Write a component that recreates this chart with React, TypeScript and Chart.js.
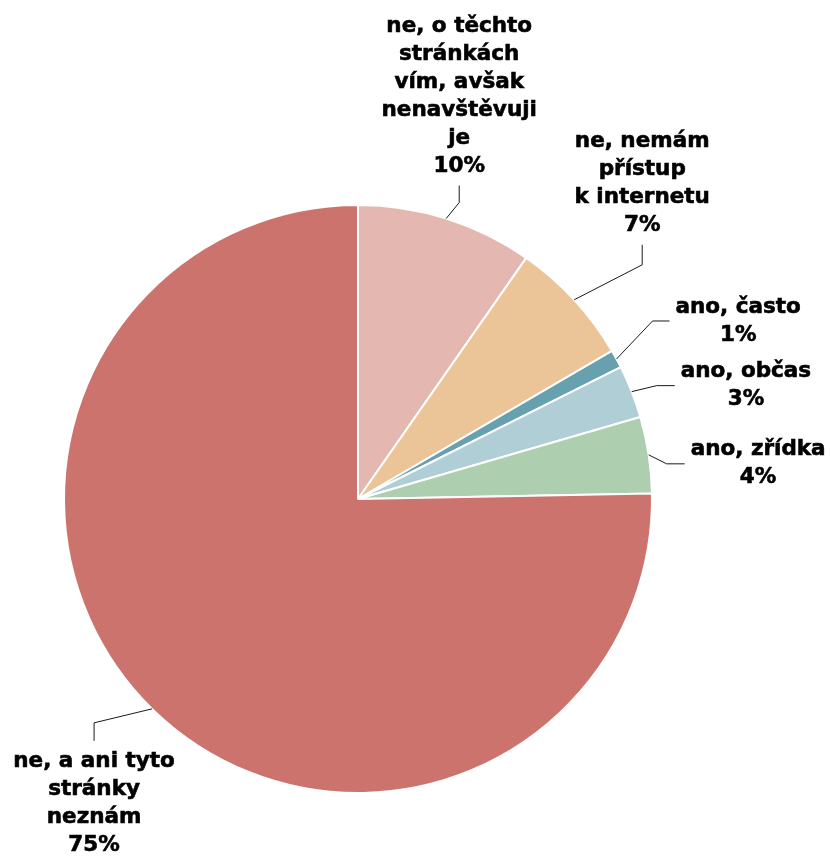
import React, { useEffect, useRef } from "react";
import { Chart, registerables } from "chart.js";

Chart.register(...registerables);

const categories: string[][] = [
  ["ne, o těchto", "stránkách", "vím, avšak", "nenavštěvuji", "je"],
  ["ne, nemám", "přístup", "k internetu"],
  ["ano, často"],
  ["ano, občas"],
  ["ano, zřídka"],
  ["ne, a ani tyto", "stránky", "neznám"],
];
const values: number[] = [9.7, 6.9, 1.0, 2.9, 4.2, 75.3];
const colors: string[] = ["#E5B7B1", "#EBC498", "#67A0AE", "#B0CED6", "#AECFAF", "#CC736E"];

// leader line styling: elbow offset from arc edge, then final segment
type Leader = { elbow: [number, number]; end: [number, number]; side: "top" | "right" | "bottom" };
const leaders: Leader[] = [
  { elbow: [13, -16], end: [0, -17], side: "top" },
  { elbow: [68, -35], end: [0, -20], side: "top" },
  { elbow: [36, -38], end: [17, 0], side: "right" },
  { elbow: [25, -6], end: [18, 0], side: "right" },
  { elbow: [18, 9], end: [18, 0], side: "right" },
  { elbow: [-58, 14], end: [0, 18], side: "bottom" },
];

const FONT = 'bold 21.5px "DejaVu Sans"';
const LINE_H = 28;

const labelPlugin = {
  id: "leaderLabels",
  afterDatasetsDraw(chart: any) {
    const ctx: CanvasRenderingContext2D = chart.ctx;
    const meta = chart.getDatasetMeta(0);
    ctx.save();
    ctx.font = FONT;
    meta.data.forEach((arc: any, i: number) => {
      const { x, y, startAngle, endAngle, outerRadius } = arc.getProps(
        ["x", "y", "startAngle", "endAngle", "outerRadius"],
        true
      );
      const mid = (startAngle + endAngle) / 2;
      const px = x + Math.cos(mid) * outerRadius;
      const py = y + Math.sin(mid) * outerRadius;
      const L = leaders[i];
      const ex = px + L.elbow[0];
      const ey = py + L.elbow[1];
      const fx = ex + L.end[0];
      const fy = ey + L.end[1];
      ctx.strokeStyle = "#1a1a1a";
      ctx.lineWidth = 1;
      ctx.beginPath();
      ctx.moveTo(px, py);
      ctx.lineTo(ex, ey);
      ctx.lineTo(fx, fy);
      ctx.stroke();

      const lines = [...categories[i], Math.round(values[i]) + "%"];
      ctx.fillStyle = "#000000";
      ctx.strokeStyle = "#000000";
      ctx.lineWidth = 0.6;
      ctx.textAlign = "center";
      ctx.textBaseline = "middle";
      const maxW = Math.max(...lines.map((l) => ctx.measureText(l).width));
      let cx = fx;
      let firstY = 0;
      if (L.side === "top") {
        firstY = fy - 19 - (lines.length - 1) * LINE_H;
      } else if (L.side === "bottom") {
        firstY = fy + 21;
      } else {
        cx = fx + 6 + maxW / 2;
        firstY = fy - ((lines.length - 1) * LINE_H) / 2;
      }
      lines.forEach((l, k) => {
        ctx.fillText(l, cx, firstY + k * LINE_H);
        ctx.strokeText(l, cx, firstY + k * LINE_H);
      });
    });
    ctx.restore();
  },
};

export default function App() {
  const ref = useRef<HTMLCanvasElement | null>(null);
  useEffect(() => {
    if (!ref.current) return;
    const chart = new Chart(ref.current, {
      type: "pie",
      data: {
        labels: categories.map((c) => c.join(" ")),
        datasets: [
          {
            data: values,
            backgroundColor: colors,
            borderColor: "#ffffff",
            borderWidth: 2,
          },
        ],
      },
      options: {
        responsive: false,
        animation: false,
        layout: { padding: { left: 63, right: 178, top: 204, bottom: 62 } },
        plugins: { legend: { display: false }, tooltip: { enabled: false } },
      },
      plugins: [labelPlugin],
    });
    return () => chart.destroy();
  }, []);
  return (
    <div style={{ position: "absolute", left: 0, top: 0, width: 831, height: 856, background: "#fff" }}>
      <canvas ref={ref} width={831} height={856} />
    </div>
  );
}
